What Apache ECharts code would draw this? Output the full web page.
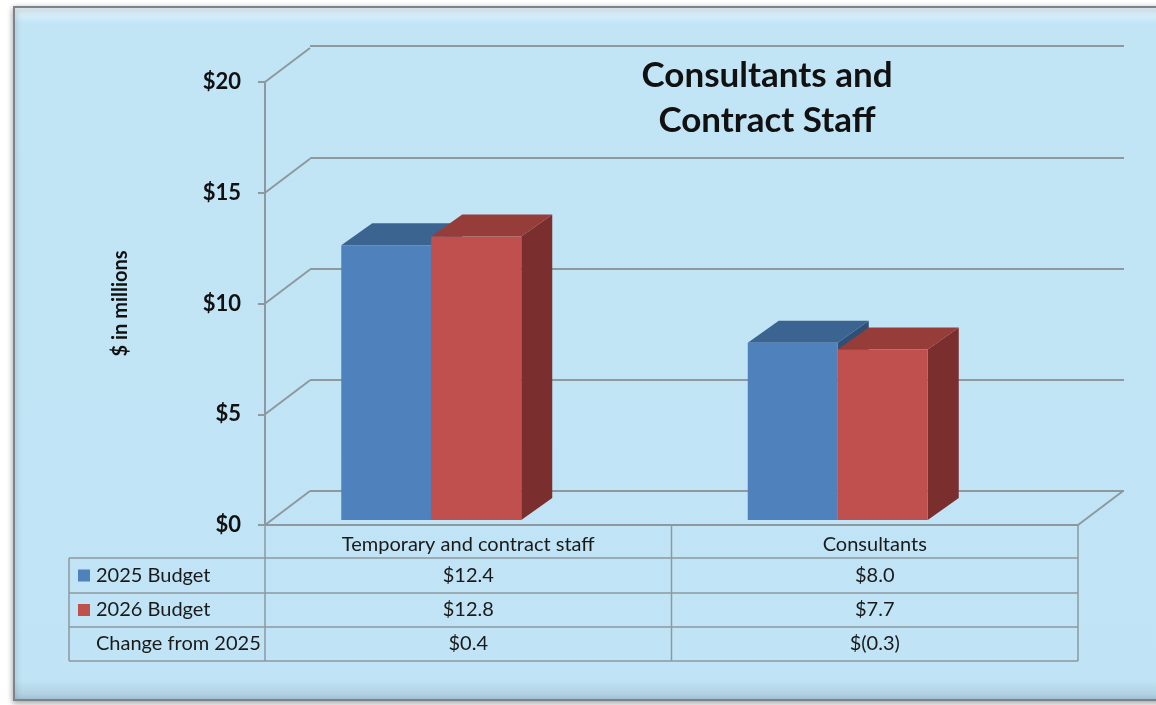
<!DOCTYPE html>
<html>
<head>
<meta charset="utf-8">
<style>
  html, body { margin: 0; padding: 0; background: #fff; }
  #chart { width: 1156px; height: 705px; }
</style>
<script src="https://cdn.jsdelivr.net/npm/echarts@6/dist/echarts.min.js"></script>
</head>
<body>
<div id="chart"></div>
<script>
// chart data
const categories = ['Temporary and contract staff', 'Consultants'];
const budget2025 = [12.4, 8.0];
const budget2026 = [12.8, 7.7];
const changeFrom2025 = [0.4, -0.3];
const rowNames = ['2025 Budget', '2026 Budget', 'Change from 2025'];
const yTicks = [0, 5, 10, 15, 20];

const FONT = 'Lato, "Open Sans", sans-serif';
const LINE = '#8e989f';
const BLUE = ['#4f81bd', '#3c6491', '#2f4f75'];
const RED = ['#c0504d', '#963c39', '#7a2e2d'];

// 3d look
const DEPTH = [45, -34];      // floor depth (front edge -> back wall)
const BAR_W = 90;
const BAR_LIFT = -5;          // bars stand a little behind the front edge
const BAR_DEPTH = [31, -22];

function money(v) {
    return v < 0 ? '$(' + Math.abs(v).toFixed(1) + ')' : '$' + v.toFixed(1);
}

function barRenderer(offset, colors) {
    return function (params, api) {
        const base = api.coord([api.value(0), 0]);
        const top = api.coord([api.value(0), api.value(1)]);
        const x0 = base[0] + offset;
        const x1 = x0 + BAR_W;
        const yb = base[1] + BAR_LIFT;
        const yt = top[1] + BAR_LIFT;
        const dx = BAR_DEPTH[0], dy = BAR_DEPTH[1];
        return {
            type: 'group',
            children: [
                { type: 'polygon', shape: { points: [[x1, yb], [x1 + dx, yb + dy], [x1 + dx, yt + dy], [x1, yt]] }, style: { fill: colors[2] } },
                { type: 'polygon', shape: { points: [[x0, yt], [x1, yt], [x1 + dx, yt + dy], [x0 + dx, yt + dy]] }, style: { fill: colors[1] } },
                { type: 'rect', shape: { x: x0, y: yt, width: BAR_W, height: yb - yt }, style: { fill: colors[0] } }
            ]
        };
    };
}

// diagonal wall lines from the front axis to the back wall
function diagonalRenderer(params, api) {
    const cs = params.coordSys;
    const y = api.coord([0, api.value(1)])[1];
    const children = [{
        type: 'line',
        shape: { x1: cs.x, y1: y, x2: cs.x + DEPTH[0], y2: y + DEPTH[1] },
        style: { stroke: LINE, lineWidth: 2 }
    }];
    if (api.value(1) === 0) {
        children.push({
            type: 'line',
            shape: { x1: cs.x + cs.width, y1: y, x2: cs.x + cs.width + DEPTH[0], y2: y + DEPTH[1] },
            style: { stroke: LINE, lineWidth: 2 }
        });
    }
    return { type: 'group', children: children };
}

var dom = document.getElementById('chart');
var myChart = echarts.init(dom, null, { renderer: 'canvas' });

var option = {
    animation: false,
    backgroundColor: '#ffffff',
    title: {
        text: 'Consultants and\nContract Staff',
        left: 762,
        top: 48,
        textAlign: 'center',
        textStyle: { fontFamily: FONT, fontSize: 35, fontWeight: 'bold', color: '#111', lineHeight: 45 }
    },
    grid: [
        // front plane
        { left: 265, right: 78, top: 82, bottom: 180 },
        // back wall
        { left: 310, right: 32, top: 46, bottom: 214 }
    ],
    xAxis: [{
        type: 'category',
        gridIndex: 0,
        data: categories,
        axisLine: { lineStyle: { color: LINE, width: 2 } },
        axisTick: { show: false },
        axisLabel: { fontFamily: FONT, fontSize: 20, color: '#1a1a1a', margin: 10 }
    }, {
        type: 'category',
        gridIndex: 1,
        data: categories,
        show: false
    }],
    yAxis: [{
        type: 'value',
        gridIndex: 0,
        min: 0,
        max: 20,
        interval: 5,
        name: '$ in millions',
        nameLocation: 'middle',
        nameRotate: 90,
        nameGap: 134,
        nameTextStyle: { fontFamily: FONT, fontSize: 20, fontWeight: 'bold', color: '#111' },
        axisLine: { show: true, lineStyle: { color: LINE, width: 2 } },
        axisTick: { show: true, length: 7, lineStyle: { color: LINE, width: 2 } },
        axisLabel: { fontFamily: FONT, fontSize: 22, fontWeight: 'bold', color: '#111', margin: 24, formatter: v => '$' + v },
        splitLine: { show: false }
    }, {
        type: 'value',
        gridIndex: 1,
        min: 0,
        max: 20,
        interval: 5,
        axisLine: { show: false },
        axisTick: { show: false },
        axisLabel: { show: false },
        splitLine: { show: true, lineStyle: { color: LINE, width: 2 } }
    }],
    series: [{
        name: 'walls',
        type: 'custom',
        xAxisIndex: 0,
        yAxisIndex: 0,
        renderItem: diagonalRenderer,
        data: yTicks.map(v => [0, v]),
        encode: { x: 0, y: 1 },
        z: 1,
        silent: true
    }, {
        name: rowNames[0],
        type: 'custom',
        xAxisIndex: 0,
        yAxisIndex: 0,
        renderItem: barRenderer(-127, BLUE),
        data: budget2025.map((v, i) => [i, v]),
        encode: { x: 0, y: 1 },
        z: 3
    }, {
        name: rowNames[1],
        type: 'custom',
        xAxisIndex: 0,
        yAxisIndex: 0,
        renderItem: barRenderer(-37, RED),
        data: budget2026.map((v, i) => [i, v]),
        encode: { x: 0, y: 1 },
        z: 4
    }]
};

myChart.setOption(option);

// data table under the plot, aligned to the category axis
const centers = categories.map((c, i) => myChart.convertToPixel({ xAxisIndex: 0 }, i));
const half = (centers[1] - centers[0]) / 2;
const colEdges = [centers[0] - half, centers[0] + half, centers[1] + half];
const rowEdges = [525, 558, 593, 627, 661];
const tableLeft = 69;
const rows = [budget2025, budget2026, changeFrom2025];
const keyColors = [BLUE[0], RED[0], null];

const graphics = [{
    type: 'rect',
    z: -10,
    silent: true,
    shape: { x: 14, y: 7, width: 1160, height: 693 },
    style: {
        fill: new echarts.graphic.LinearGradient(0, 0, 0, 1, [
            { offset: 0, color: '#eef9fd' },
            { offset: 0.025, color: '#c2e5f6' },
            { offset: 0.97, color: '#c0e4f5' },
            { offset: 1, color: '#a9c9da' }
        ]),
        stroke: '#7d8388',
        lineWidth: 2,
        shadowBlur: 6,
        shadowColor: 'rgba(0,0,0,0.35)',
        shadowOffsetX: 0,
        shadowOffsetY: 2
    }
}];

// horizontal rules
rowEdges.slice(1).forEach(y => {
    graphics.push({ type: 'line', silent: true, shape: { x1: tableLeft, y1: y, x2: colEdges[2], y2: y }, style: { stroke: LINE, lineWidth: 1.5 } });
});
// vertical rules
graphics.push({ type: 'line', silent: true, shape: { x1: tableLeft, y1: rowEdges[1], x2: tableLeft, y2: rowEdges[4] }, style: { stroke: LINE, lineWidth: 1.5 } });
colEdges.forEach(x => {
    graphics.push({ type: 'line', silent: true, shape: { x1: x, y1: rowEdges[0], x2: x, y2: rowEdges[4] }, style: { stroke: LINE, lineWidth: 1.5 } });
});

rows.forEach((vals, r) => {
    const yMid = (rowEdges[r + 1] + rowEdges[r + 2]) / 2;
    if (keyColors[r]) {
        graphics.push({ type: 'rect', silent: true, shape: { x: 78, y: yMid - 6, width: 12, height: 12 }, style: { fill: keyColors[r] } });
    }
    graphics.push({
        type: 'text', silent: true, x: 96, y: yMid,
        style: { text: rowNames[r], font: '20px ' + FONT, fill: '#1a1a1a', verticalAlign: 'middle' }
    });
    vals.forEach((v, i) => {
        graphics.push({
            type: 'text', silent: true, x: centers[i], y: yMid,
            style: { text: money(v), font: '20px ' + FONT, fill: '#1a1a1a', align: 'center', verticalAlign: 'middle' }
        });
    });
});

myChart.setOption({ graphic: graphics });
</script>
</body>
</html>
